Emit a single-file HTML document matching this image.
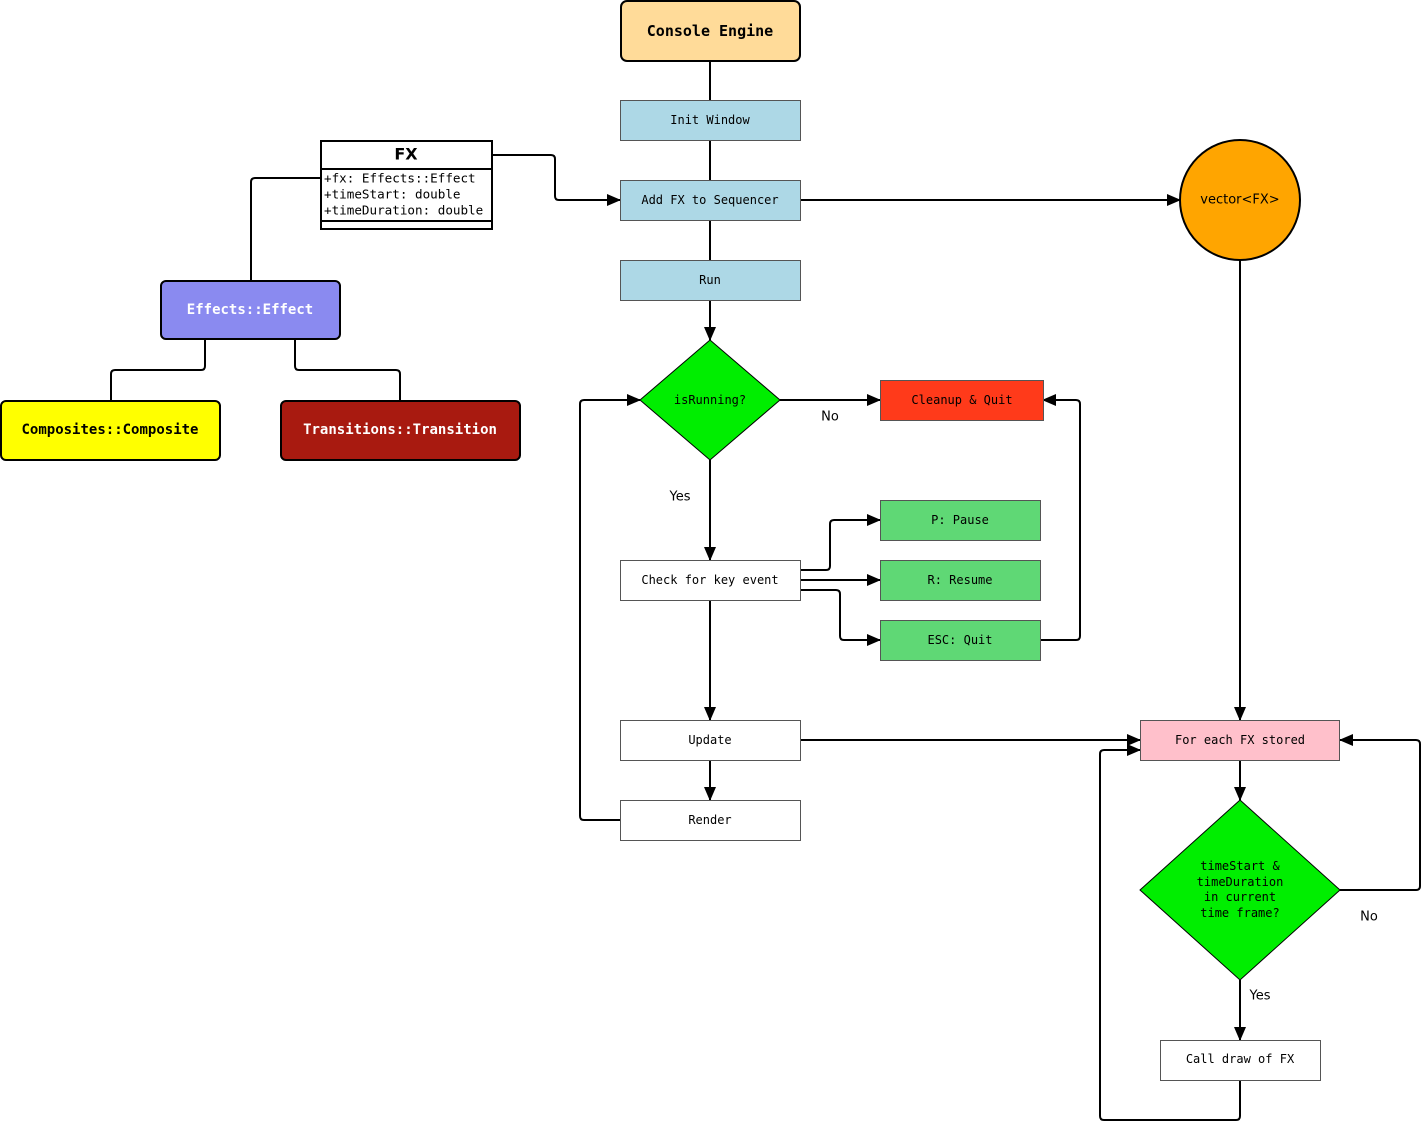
<!DOCTYPE html>
<html><head><meta charset="utf-8"><style>
html,body{margin:0;padding:0;background:#fff}
svg{display:block}
text{font-family:"DejaVu Sans Mono","Liberation Mono",monospace;font-size:12px;text-anchor:middle;dominant-baseline:central}
.s{font-family:"DejaVu Sans","Liberation Sans",sans-serif;font-size:13px}
.l{fill:none;stroke:#000;stroke-width:2;stroke-linejoin:round}
</style></head><body>
<svg width="1422" height="1122" viewBox="0 0 1422 1122" xmlns="http://www.w3.org/2000/svg">
<defs><marker id="a" markerWidth="14" markerHeight="12" refX="13" refY="6" orient="auto" markerUnits="userSpaceOnUse"><path d="M0,0 L14,6 L0,12 z" fill="#000"/></marker></defs>
<path class="l" d="M710,61 V100 M710,140 V180 M710,220 V260"/>
<path class="l" d="M710,300 V340" marker-end="url(#a)"/>
<path class="l" d="M492,155 H551 Q555,155 555,159 V196 Q555,200 559,200 H620" marker-end="url(#a)"/>
<path class="l" d="M800,200 H1180" marker-end="url(#a)"/>
<path class="l" d="M1240,260 V720" marker-end="url(#a)"/>
<path class="l" d="M320,178 H255 Q251,178 251,182 V280"/>
<path class="l" d="M205,340 V366 Q205,370 201,370 H115 Q111,370 111,374 V400"/>
<path class="l" d="M295,340 V366 Q295,370 299,370 H396 Q400,370 400,374 V400"/>
<path class="l" d="M780,400 H880" marker-end="url(#a)"/>
<path class="l" d="M710,460 V560" marker-end="url(#a)"/>
<path class="l" d="M620,820 H584 Q580,820 580,816 V404 Q580,400 584,400 H640" marker-end="url(#a)"/>
<path class="l" d="M800,570 H826 Q830,570 830,566 V524 Q830,520 834,520 H880" marker-end="url(#a)"/>
<path class="l" d="M800,580 H880" marker-end="url(#a)"/>
<path class="l" d="M800,590 H836 Q840,590 840,594 V636 Q840,640 844,640 H880" marker-end="url(#a)"/>
<path class="l" d="M1040,640 H1076 Q1080,640 1080,636 V404 Q1080,400 1076,400 H1043" marker-end="url(#a)"/>
<path class="l" d="M710,600 V720" marker-end="url(#a)"/>
<path class="l" d="M710,760 V800" marker-end="url(#a)"/>
<path class="l" d="M800,740 H1140" marker-end="url(#a)"/>
<path class="l" d="M1240,760 V800" marker-end="url(#a)"/>
<path class="l" d="M1240,980 V1040" marker-end="url(#a)"/>
<path class="l" d="M1340,890 H1416 Q1420,890 1420,886 V744 Q1420,740 1416,740 H1340" marker-end="url(#a)"/>
<path class="l" d="M1240,1080 V1116 Q1240,1120 1236,1120 H1104 Q1100,1120 1100,1116 V754 Q1100,750 1104,750 H1140" marker-end="url(#a)"/>
<rect x="621" y="1" width="179" height="60" rx="6" fill="#ffdb99" stroke="#000" stroke-width="2"/>
<text x="710" y="31" style="font-weight:bold;font-size:15px">Console Engine</text>
<g fill="#add8e6" stroke="#555" stroke-width="1">
<rect x="620.5" y="100.5" width="180" height="40"/><rect x="620.5" y="180.5" width="180" height="40"/><rect x="620.5" y="260.5" width="180" height="40"/></g>
<text x="710" y="120">Init Window</text><text x="710" y="200">Add FX to Sequencer</text><text x="710" y="280">Run</text>
<circle cx="1240" cy="200" r="60" fill="#ffa500" stroke="#000" stroke-width="2"/>
<text x="1240" y="200" class="s">vector&lt;FX&gt;</text>
<rect x="321" y="141" width="171" height="88" fill="#fff" stroke="#000" stroke-width="2"/>
<path class="l" d="M321,169 H492 M321,221 H492"/>
<text x="406" y="154" class="s" style="font-weight:bold;font-size:16px">FX</text>
<text x="324" y="178" style="text-anchor:start;font-size:12.6px">+fx: Effects::Effect</text>
<text x="324" y="194" style="text-anchor:start;font-size:12.6px">+timeStart: double</text>
<text x="324" y="210" style="text-anchor:start;font-size:12.6px">+timeDuration: double</text>
<rect x="161" y="281" width="179" height="58" rx="5" fill="#8a8af0" stroke="#000" stroke-width="2"/>
<text x="250" y="310" style="fill:#fff;font-weight:bold;font-size:14px">Effects::Effect</text>
<rect x="1" y="401" width="219" height="59" rx="5" fill="#ffff00" stroke="#000" stroke-width="2"/>
<text x="110" y="430" style="font-weight:bold;font-size:14px">Composites::Composite</text>
<rect x="281" y="401" width="239" height="59" rx="5" fill="#a81a10" stroke="#000" stroke-width="2"/>
<text x="400" y="430" style="fill:#fff;font-weight:bold;font-size:14px">Transitions::Transition</text>
<polygon points="710,340 780,400 710,460 640,400" fill="#00ee00" stroke="#000" stroke-width="1"/>
<text x="710" y="400">isRunning?</text>
<text x="830" y="417" class="s">No</text><text x="680" y="497" class="s">Yes</text>
<rect x="880.5" y="380.5" width="163" height="40" fill="#ff3a1a" stroke="#555"/>
<text x="962" y="400">Cleanup &amp; Quit</text>
<g fill="#5fd875" stroke="#555"><rect x="880.5" y="500.5" width="160" height="40"/><rect x="880.5" y="560.5" width="160" height="40"/><rect x="880.5" y="620.5" width="160" height="40"/></g>
<text x="960" y="520">P: Pause</text><text x="960" y="580">R: Resume</text><text x="960" y="640">ESC: Quit</text>
<g fill="#fff" stroke="#555"><rect x="620.5" y="560.5" width="180" height="40"/><rect x="620.5" y="720.5" width="180" height="40"/><rect x="620.5" y="800.5" width="180" height="40"/><rect x="1160.5" y="1040.5" width="160" height="40"/></g>
<text x="710" y="580">Check for key event</text><text x="710" y="740">Update</text><text x="710" y="820">Render</text>
<rect x="1140.5" y="720.5" width="199" height="40" fill="#ffc0cb" stroke="#555"/>
<text x="1240" y="740">For each FX stored</text>
<polygon points="1240,800 1340,890 1240,980 1140,890" fill="#00ee00" stroke="#000" stroke-width="1"/>
<text x="1240" y="866">timeStart &amp;</text><text x="1240" y="882">timeDuration</text><text x="1240" y="897">in current</text><text x="1240" y="913">time frame?</text>
<text x="1369" y="917" class="s">No</text><text x="1260" y="996" class="s">Yes</text>
<text x="1240" y="1059">Call draw of FX</text>
</svg>
</body></html>
